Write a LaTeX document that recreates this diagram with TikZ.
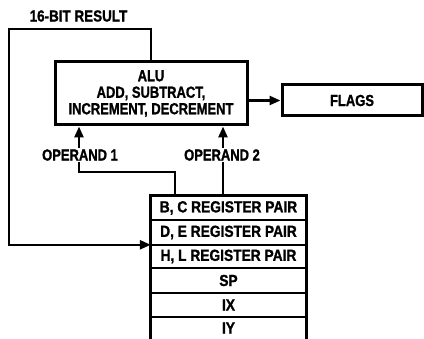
\documentclass[tikz,border=0pt]{standalone}
\usepackage{fontspec}
\setmainfont{Liberation Sans}[FakeStretch=0.81, BoldFeatures={FakeBold=1.2}]
\newfontfamily\regfont{Liberation Sans}[FakeStretch=0.86, BoldFeatures={FakeBold=1.2}]
\newfontfamily\resfont{Liberation Sans}[FakeStretch=0.84, BoldFeatures={FakeBold=1.2}]
\usetikzlibrary{arrows.meta}
\begin{document}
\begin{tikzpicture}[x=1pt,y=-1pt,
  lbl/.style={font=\fontsize{16}{16.5}\selectfont\bfseries},
  box/.style={draw, line width=3pt, inner sep=0pt, lbl, align=center},
  row/.style={font=\fontsize{16}{16.5}\selectfont\regfont\bfseries, inner sep=0pt, minimum width=155pt},
  conn/.style={line width=2.5pt},
  arr/.style={conn, -{Triangle[length=11pt,width=9pt]}},
  oplbl/.style={lbl, fill=white, inner sep=1pt},
]
\useasboundingbox (0,0) rectangle (424,339);
\node[box, minimum width=192pt, minimum height=63pt] (alu) at (151,93.5) {ALU\\ADD, SUBTRACT,\\INCREMENT, DECREMENT};
\node[box, minimum width=140pt, minimum height=31pt] (flags) at (352,100.5) {FLAGS};
\node[row, minimum height=24pt] (bc) at (228.5,208) {B, C REGISTER PAIR};
\node[row, minimum height=25pt] (de) at (228.5,232.5) {D, E REGISTER PAIR};
\node[row, minimum height=23pt] (hl) at (228.5,256.5) {H, L REGISTER PAIR};
\node[row, minimum height=25pt] (sp) at (228.5,280.5) {SP};
\node[row, minimum height=24pt] (ix) at (228.5,305) {IX};
\node[row, minimum height=22pt] (iy) at (228.5,328) {IY};
% register block lines
\draw[line width=3pt] (iy.south west) -- (bc.north west) -- (bc.north east) -- (iy.south east);
\foreach \r in {bc,de,hl,sp,ix}
  \draw[line width=2pt] (\r.south west) -- (\r.south east);
% connectors
\coordinate (c1) at (9,29);
\coordinate (op1src) at (175,196);
\coordinate (op1x) at (79,172);
\coordinate (op2src) at (223,196);
\draw[arr] (flags.west -| alu.east) -- (flags.west);
\draw[arr] (alu.north) |- (c1) |- (hl.north west);
\draw[arr] (op1src) |- (op1x) -- (alu.south -| op1x);
\draw[arr] (op2src) -- (alu.south -| op2src);
% labels
\node[lbl, font=\fontsize{16}{16.5}\selectfont\resfont\bfseries] (res) at (78.5,16) {16-BIT RESULT};
\node[oplbl] (op1) at (80,155) {OPERAND 1};
\node[oplbl] (op2) at (222,155) {OPERAND 2};
\end{tikzpicture}
\end{document}
